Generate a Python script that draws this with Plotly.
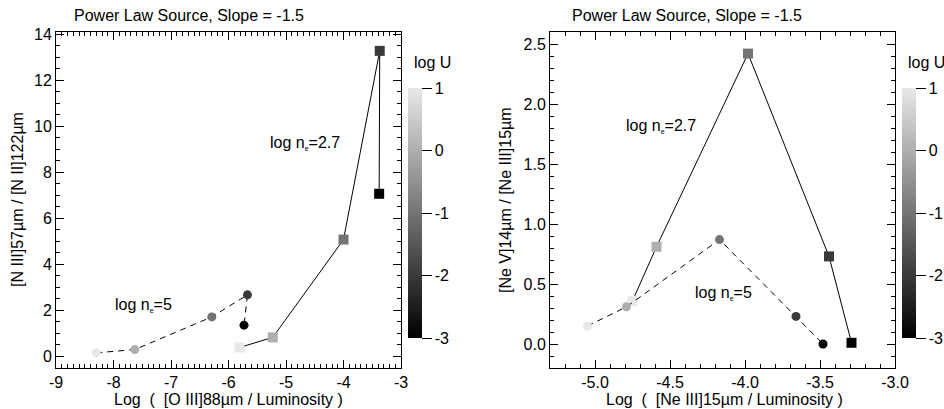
import plotly.graph_objects as go

# ---------------- data ----------------
logU = [1, 0, -1, -2, -3]

# Left panel
oiii_ne27 = [-5.81, -5.23, -4.00, -3.37, -3.38]
nratio_ne27 = [0.39, 0.83, 5.08, 13.28, 7.07]
oiii_ne5 = [-8.30, -7.63, -6.29, -5.67, -5.73]
nratio_ne5 = [0.16, 0.30, 1.72, 2.68, 1.36]

# Right panel
neiii_ne27 = [-4.75, -4.59, -3.98, -3.44, -3.29]
neratio_ne27 = [0.36, 0.81, 2.42, 0.73, 0.01]
neiii_ne5 = [-5.05, -4.79, -4.17, -3.66, -3.48]
neratio_ne5 = [0.15, 0.31, 0.87, 0.23, 0.00]

left_xticks = [-9, -8, -7, -6, -5, -4, -3]
left_xtext = ["-9", "-8", "-7", "-6", "-5", "-4", "-3"]
left_yticks = [0, 2, 4, 6, 8, 10, 12, 14]
left_ytext = ["0", "2", "4", "6", "8", "10", "12", "14"]
right_xticks = [-5.0, -4.5, -4.0, -3.5, -3.0]
right_xtext = ["-5.0", "-4.5", "-4.0", "-3.5", "-3.0"]
right_yticks = [0.0, 0.5, 1.0, 1.5, 2.0, 2.5]
right_ytext = ["0.0", "0.5", "1.0", "1.5", "2.0", "2.5"]
cbar_ticks = [1, 0, -1, -2, -3]
cbar_text = ["1", "0", "-1", "-2", "-3"]

# ---------------- figure ----------------
W, H = 944, 409
FONT = "Liberation Sans, Arial, Helvetica, sans-serif"
fs = 16

def px_x(p):
    return p / W

def px_y(p):
    return 1 - p / H

gray_scale = [[0.0, "#000000"], [1.0, "#e8e8e8"]]

fig = go.Figure()

def add_series(x, y, symbol, dash, xa, ya, cax, size):
    fig.add_trace(go.Scatter(
        x=x, y=y, mode="lines+markers",
        line=dict(color="black", width=1, dash=dash),
        marker=dict(symbol=symbol, size=size, color=logU, coloraxis=cax,
                    line=dict(width=0)),
        xaxis=xa, yaxis=ya, showlegend=False, hoverinfo="skip"))

add_series(oiii_ne27, nratio_ne27, "square", "solid", "x", "y", "coloraxis", 10)
add_series(oiii_ne5, nratio_ne5, "circle", "6px,5px", "x", "y", "coloraxis", 9)
add_series(neiii_ne27, neratio_ne27, "square", "solid", "x2", "y2", "coloraxis2", 10)
add_series(neiii_ne5, neratio_ne5, "circle", "6px,5px", "x2", "y2", "coloraxis2", 9)

def axis_common(tickvals, ticktext, rng, dom, minor_dtick, anchor):
    return dict(
        range=rng, domain=dom, anchor=anchor,
        tickmode="array", tickvals=tickvals, ticktext=ticktext,
        ticks="inside", ticklen=8, tickwidth=1, tickcolor="black",
        showline=True, linecolor="black", linewidth=1, mirror="ticks",
        showgrid=False, zeroline=False,
        tickfont=dict(family=FONT, size=fs, color="black"),
        minor=dict(ticks="inside", ticklen=4, tickwidth=1, tickcolor="black",
                   dtick=minor_dtick, tick0=0, showgrid=False),
    )

xd1 = [px_x(56), px_x(401)]
xd2 = [px_x(550), px_x(895)]
yd = [px_y(368), px_y(32)]

def cbar(xleft):
    return dict(
        x=px_x(xleft), xanchor="left", xpad=0,
        y=px_y(88), yanchor="top", ypad=0,
        len=250, lenmode="pixels", thickness=14, thicknessmode="pixels",
        outlinewidth=0,
        tickmode="array", tickvals=cbar_ticks, ticktext=cbar_text,
        ticks="outside", ticklen=10, tickwidth=1, tickcolor="black",
        tickfont=dict(family=FONT, size=fs, color="black"),
    )

fig.update_layout(
    width=W, height=H,
    margin=dict(l=0, r=0, t=0, b=0, autoexpand=False),
    paper_bgcolor="white", plot_bgcolor="white",
    font=dict(family=FONT, size=fs, color="black"),
    xaxis=axis_common(left_xticks, left_xtext, [-9, -3], xd1, 0.1, "y"),
    yaxis=axis_common(left_yticks, left_ytext, [-0.5, 14.1], yd, 0.5, "x"),
    xaxis2=axis_common(right_xticks, right_xtext, [-5.3, -3.0], xd2, 0.1, "y2"),
    yaxis2=axis_common(right_yticks, right_ytext, [-0.2, 2.6], yd, 0.1, "x2"),
    coloraxis=dict(colorscale=gray_scale, cmin=-3, cmax=1, colorbar=cbar(408)),
    coloraxis2=dict(colorscale=gray_scale, cmin=-3, cmax=1, colorbar=cbar(902)),
)

NB = "\u00a0"
sub_e = "<sub><span style='font-size:7px'>e</span></sub>"

def ann(text, xp, yp, xanchor="center", yanchor="middle", angle=0):
    fig.add_annotation(text=text, x=px_x(xp), y=px_y(yp), xref="paper", yref="paper",
                       xanchor=xanchor, yanchor=yanchor, showarrow=False, textangle=angle,
                       borderpad=0,
                       font=dict(family=FONT, size=fs, color="black"))

# titles
ann("Power Law Source, Slope = -1.5", 73, 15, xanchor="left")
ann("Power Law Source, Slope = -1.5", 571, 15, xanchor="left")

# colorbar titles
ann("log U", 413, 63, xanchor="left")
ann("log U", 907, 63, xanchor="left")

# axis titles
ann(f"Log{NB}{NB}({NB}{NB}[O III]88\u00b5m / Luminosity )", 228, 399)
ann(f"Log{NB}{NB}({NB}{NB}[Ne III]15\u00b5m / Luminosity )", 724, 399)
ann("[N III]57\u00b5m / [N II]122\u00b5m", 17, 200, angle=-90)
ann("[Ne V]14\u00b5m / [Ne III]15\u00b5m", 505, 200, angle=-90)

# curve labels
ann(f"log n{sub_e}=2.7", 269, 143, xanchor="left")
ann(f"log n{sub_e}=5", 114, 305, xanchor="left")
ann(f"log n{sub_e}=2.7", 625, 126, xanchor="left")
ann(f"log n{sub_e}=5", 694, 293, xanchor="left")

fig.write_html(
    "out.html",
    config={"displayModeBar": False, "staticPlot": True},
    post_script="document.body.style.margin='0';document.body.style.overflow='hidden';",
)
